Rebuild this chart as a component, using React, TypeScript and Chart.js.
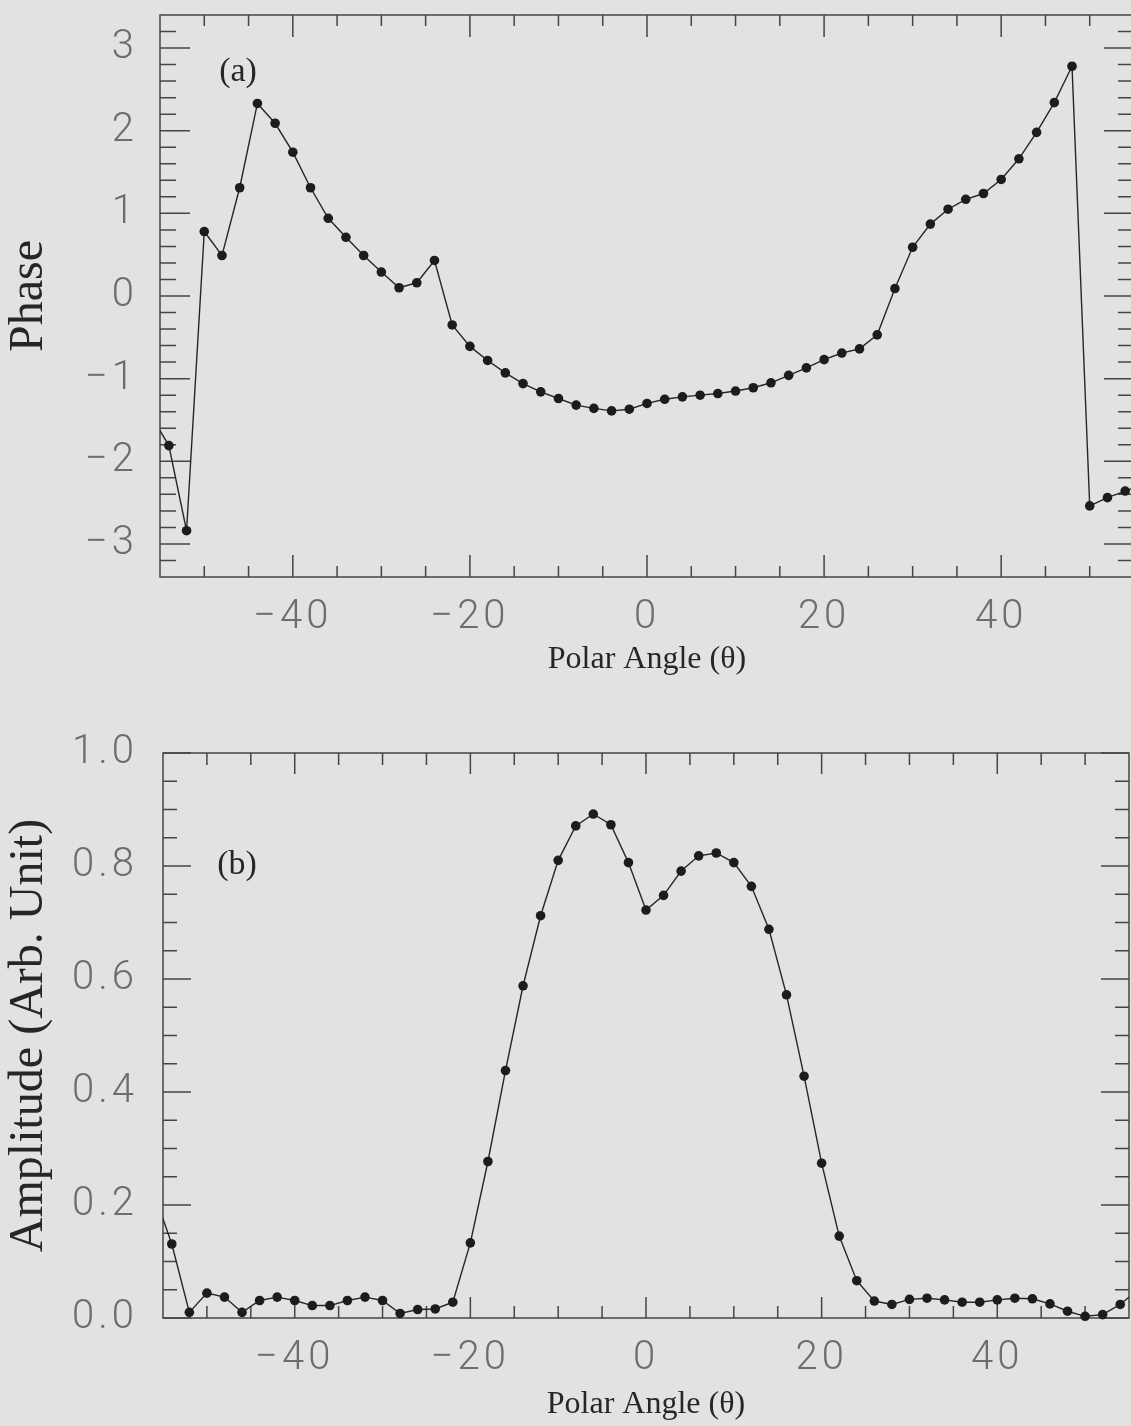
import React, { useEffect, useRef } from "react";
import { Chart, registerables } from "chart.js";

Chart.register(...registerables);

// ---- data ----
const angles = [
  -56, -54, -52, -50, -48, -46, -44, -42, -40, -38, -36, -34, -32, -30, -28, -26, -24, -22, -20,
  -18, -16, -14, -12, -10, -8, -6, -4, -2, 0, 2, 4, 6, 8, 10, 12, 14, 16, 18, 20, 22, 24, 26, 28,
  30, 32, 34, 36, 38, 40, 42, 44, 46, 48, 50, 52, 54, 56,
];

const phaseValues = [
  -1.45, -1.81, -2.84, 0.78, 0.49, 1.31, 2.33, 2.09, 1.74, 1.31, 0.94, 0.71, 0.49, 0.29, 0.1, 0.16,
  0.43, -0.35, -0.61, -0.78, -0.93, -1.06, -1.16, -1.24, -1.32, -1.36, -1.39, -1.37, -1.3, -1.25,
  -1.22, -1.2, -1.18, -1.15, -1.11, -1.05, -0.96, -0.87, -0.77, -0.69, -0.64, -0.47, 0.09, 0.59,
  0.87, 1.05, 1.17, 1.24, 1.41, 1.66, 1.98, 2.34, 2.78, -2.54, -2.44, -2.36, -2.28,
];

const amplitudeValues = [
  0.22, 0.131, 0.01, 0.044, 0.037, 0.01, 0.031, 0.037, 0.031, 0.022, 0.022, 0.031, 0.037, 0.031,
  0.008, 0.015, 0.016, 0.028, 0.133, 0.277, 0.438, 0.588, 0.712, 0.81, 0.871, 0.892, 0.873, 0.806,
  0.722, 0.748, 0.791, 0.818, 0.823, 0.806, 0.764, 0.688, 0.572, 0.428, 0.274, 0.145, 0.066, 0.03,
  0.024, 0.033, 0.035, 0.032, 0.028, 0.028, 0.032, 0.035, 0.034, 0.025, 0.012, 0.003, 0.006, 0.024,
  0.05,
];

const angleTickLabels = [-40, -20, 0, 20, 40];
const angleMinorTicks = [-50, -45, -35, -30, -25, -15, -10, -5, 5, 10, 15, 25, 30, 35, 45, 50];
const phaseTickLabels = [-3, -2, -1, 0, 1, 2, 3];
const phaseMinorTicks = [
  -3.2, -2.8, -2.6, -2.4, -2.2, -1.8, -1.6, -1.4, -1.2, -0.8, -0.6, -0.4, -0.2, 0.2, 0.4, 0.6, 0.8,
  1.2, 1.4, 1.6, 1.8, 2.2, 2.4, 2.6, 2.8, 3.2,
];
const amplitudeTickLabels = [0, 0.2, 0.4, 0.6, 0.8, 1.0];
const amplitudeMinorTicks = [
  0.05, 0.1, 0.15, 0.25, 0.3, 0.35, 0.45, 0.5, 0.55, 0.65, 0.7, 0.75, 0.85, 0.9, 0.95,
];

const xTitle = "Polar Angle (\u03b8)";
const phaseTitle = "Phase";
const amplitudeTitle = "Amplitude (Arb. Unit)";

// ---- styles ----
const BG = "#e2e2e2";
const INK = "#262626";
const FRAME = "#454545";
const TICK_FONT = { family: "Roboto, 'DejaVu Sans', sans-serif", size: 40, weight: 300 as any };
const TICK_COLOR = "#6d6d6d";
const TICK_SPACING = "4px";
const SERIF = "'Liberation Serif', 'DejaVu Serif', serif";

const fmtSigned = (v: number) => (v < 0 ? "\u2212" + Math.abs(v) : String(v));

const framePlugin = {
  id: "frame",
  beforeDatasetsDraw(chart: any, _args: any, opts: any) {
    const { ctx, chartArea } = chart;
    const { left, right, top, bottom } = chartArea;
    const xs = chart.scales.x;
    const ys = chart.scales.y;
    ctx.save();
    ctx.strokeStyle = FRAME;
    ctx.lineWidth = 1.5;
    ctx.strokeRect(left, top, right - left, bottom - top);
    ctx.beginPath();
    const xTick = (vals: number[], len: number) => {
      vals.forEach((v) => {
        const p = xs.getPixelForValue(v);
        ctx.moveTo(p, bottom);
        ctx.lineTo(p, bottom - len);
        ctx.moveTo(p, top);
        ctx.lineTo(p, top + len);
      });
    };
    const yTick = (vals: number[], len: number) => {
      vals.forEach((v) => {
        const p = ys.getPixelForValue(v);
        ctx.moveTo(left, p);
        ctx.lineTo(left + len, p);
        ctx.moveTo(right, p);
        ctx.lineTo(right - len, p);
      });
    };
    xTick(opts.xMajor, opts.xMajorLen);
    xTick(opts.xMinor, opts.xMinorLen);
    yTick(opts.yMajor, opts.yMajorLen);
    yTick(opts.yMinor, opts.yMinorLen);
    ctx.stroke();
    // panel label
    ctx.fillStyle = INK;
    ctx.font = `34px ${SERIF}`;
    ctx.textAlign = "center";
    ctx.textBaseline = "middle";
    ctx.fillText(opts.label, left + opts.labelDx, top + opts.labelDy);
    ctx.restore();
  },
  // tick labels (z = 1 layer) are drawn after datasets: widen them like the plotter font
  afterDatasetsDraw(chart: any) {
    chart.ctx.letterSpacing = TICK_SPACING;
  },
  afterDraw(chart: any) {
    chart.ctx.letterSpacing = "0px";
  },
};

function makeConfig(p: {
  values: number[];
  yMin: number;
  yMax: number;
  yTicks: number[];
  yMinor: number[];
  yTitle: string;
  yFmt: (v: number) => string;
  yWidth: number;
  xHeight: number;
  padTop: number;
  padRight: number;
  yPad: number;
  xTitlePadBottom: number;
  frame: any;
}) {
  return {
    type: "line" as const,
    data: {
      datasets: [
        {
          data: angles.map((a, i) => ({ x: a, y: p.values[i] })),
          borderColor: INK,
          borderWidth: 1.4,
          pointRadius: 4.8,
          pointBackgroundColor: "#1c1c1c",
          pointBorderColor: "#1c1c1c",
          pointBorderWidth: 0,
          tension: 0,
          clip: { left: 0, right: 0, top: 8, bottom: 8 },
        },
      ],
    },
    options: {
      animation: false,
      responsive: false,
      events: [],
      layout: {
        autoPadding: false,
        padding: { top: p.padTop, right: p.padRight, left: 0, bottom: 0 },
      },
      plugins: {
        legend: { display: false },
        tooltip: { enabled: false },
        frame: p.frame,
      },
      scales: {
        x: {
          type: "linear",
          position: "bottom",
          min: -55,
          max: 55,
          grid: { display: false },
          border: { display: false },
          afterFit: (s: any) => {
            s.height = p.xHeight;
            s.paddingLeft = 0;
            s.paddingRight = 0;
            s.paddingTop = 0;
            s.paddingBottom = 0;
          },
          afterBuildTicks: (s: any) => {
            s.ticks = angleTickLabels.map((v) => ({ value: v }));
          },
          ticks: {
            z: 1,
            font: TICK_FONT,
            color: TICK_COLOR,
            padding: 9,
            maxRotation: 0,
            autoSkip: false,
            callback: (v: any) => fmtSigned(Number(v)),
          },
          title: {
            display: true,
            text: xTitle,
            color: INK,
            font: { family: SERIF, size: 32 },
            padding: { top: 0, bottom: p.xTitlePadBottom },
          },
        },
        y: {
          type: "linear",
          position: "left",
          min: p.yMin,
          max: p.yMax,
          grid: { display: false },
          border: { display: false },
          afterFit: (s: any) => {
            s.width = p.yWidth;
            s.paddingLeft = 0;
            s.paddingRight = 0;
            s.paddingTop = 0;
            s.paddingBottom = 0;
          },
          afterBuildTicks: (s: any) => {
            s.ticks = p.yTicks.map((v) => ({ value: v }));
          },
          ticks: {
            z: 1,
            font: TICK_FONT,
            color: TICK_COLOR,
            padding: p.yPad,
            autoSkip: false,
            callback: (v: any) => p.yFmt(Number(v)),
          },
          title: {
            display: true,
            text: p.yTitle,
            color: INK,
            font: { family: SERIF, size: 48 },
            padding: { top: 1, bottom: 0 },
          },
        },
      },
    },
    plugins: [framePlugin],
  };
}

export default function App() {
  const topRef = useRef<HTMLCanvasElement | null>(null);
  const botRef = useRef<HTMLCanvasElement | null>(null);

  useEffect(() => {
    const top = new Chart(
      topRef.current as HTMLCanvasElement,
      makeConfig({
        values: phaseValues,
        yMin: -3.4,
        yMax: 3.4,
        yTicks: phaseTickLabels,
        yMinor: phaseMinorTicks,
        yTitle: phaseTitle,
        yFmt: fmtSigned,
        yWidth: 160,
        xHeight: 133,
        padTop: 15,
        padRight: 11,
        yPad: 14,
        xTitlePadBottom: 31,
        frame: {
          xMajor: angleTickLabels,
          xMinor: angleMinorTicks,
          yMajor: phaseTickLabels,
          yMinor: phaseMinorTicks,
          xMajorLen: 22,
          xMinorLen: 11,
          yMajorLen: 30,
          yMinorLen: 16,
          label: "(a)",
          labelDx: 78,
          labelDy: 57,
        },
      }) as any
    );
    const bot = new Chart(
      botRef.current as HTMLCanvasElement,
      makeConfig({
        values: amplitudeValues,
        yMin: 0,
        yMax: 1,
        yTicks: amplitudeTickLabels,
        yMinor: amplitudeMinorTicks,
        yTitle: amplitudeTitle,
        yFmt: (v: number) => v.toFixed(1),
        yWidth: 163,
        xHeight: 108,
        padTop: 43,
        padRight: 16,
        yPad: 17,
        xTitlePadBottom: 2,
        frame: {
          xMajor: angleTickLabels,
          xMinor: angleMinorTicks,
          yMajor: amplitudeTickLabels,
          yMinor: amplitudeMinorTicks,
          xMajorLen: 21,
          xMinorLen: 12,
          yMajorLen: 28,
          yMinorLen: 14,
          label: "(b)",
          labelDx: 74,
          labelDy: 112,
        },
      }) as any
    );
    return () => {
      top.destroy();
      bot.destroy();
    };
  }, []);

  return (
    <div
      style={{
        position: "absolute",
        left: 0,
        top: 0,
        width: 1131,
        height: 1426,
        overflow: "hidden",
        background: BG,
      }}
    >
      <canvas ref={topRef} width={1145} height={710} style={{ position: "absolute", left: 0, top: 0 }} />
      <canvas ref={botRef} width={1145} height={716} style={{ position: "absolute", left: 0, top: 710 }} />
    </div>
  );
}
